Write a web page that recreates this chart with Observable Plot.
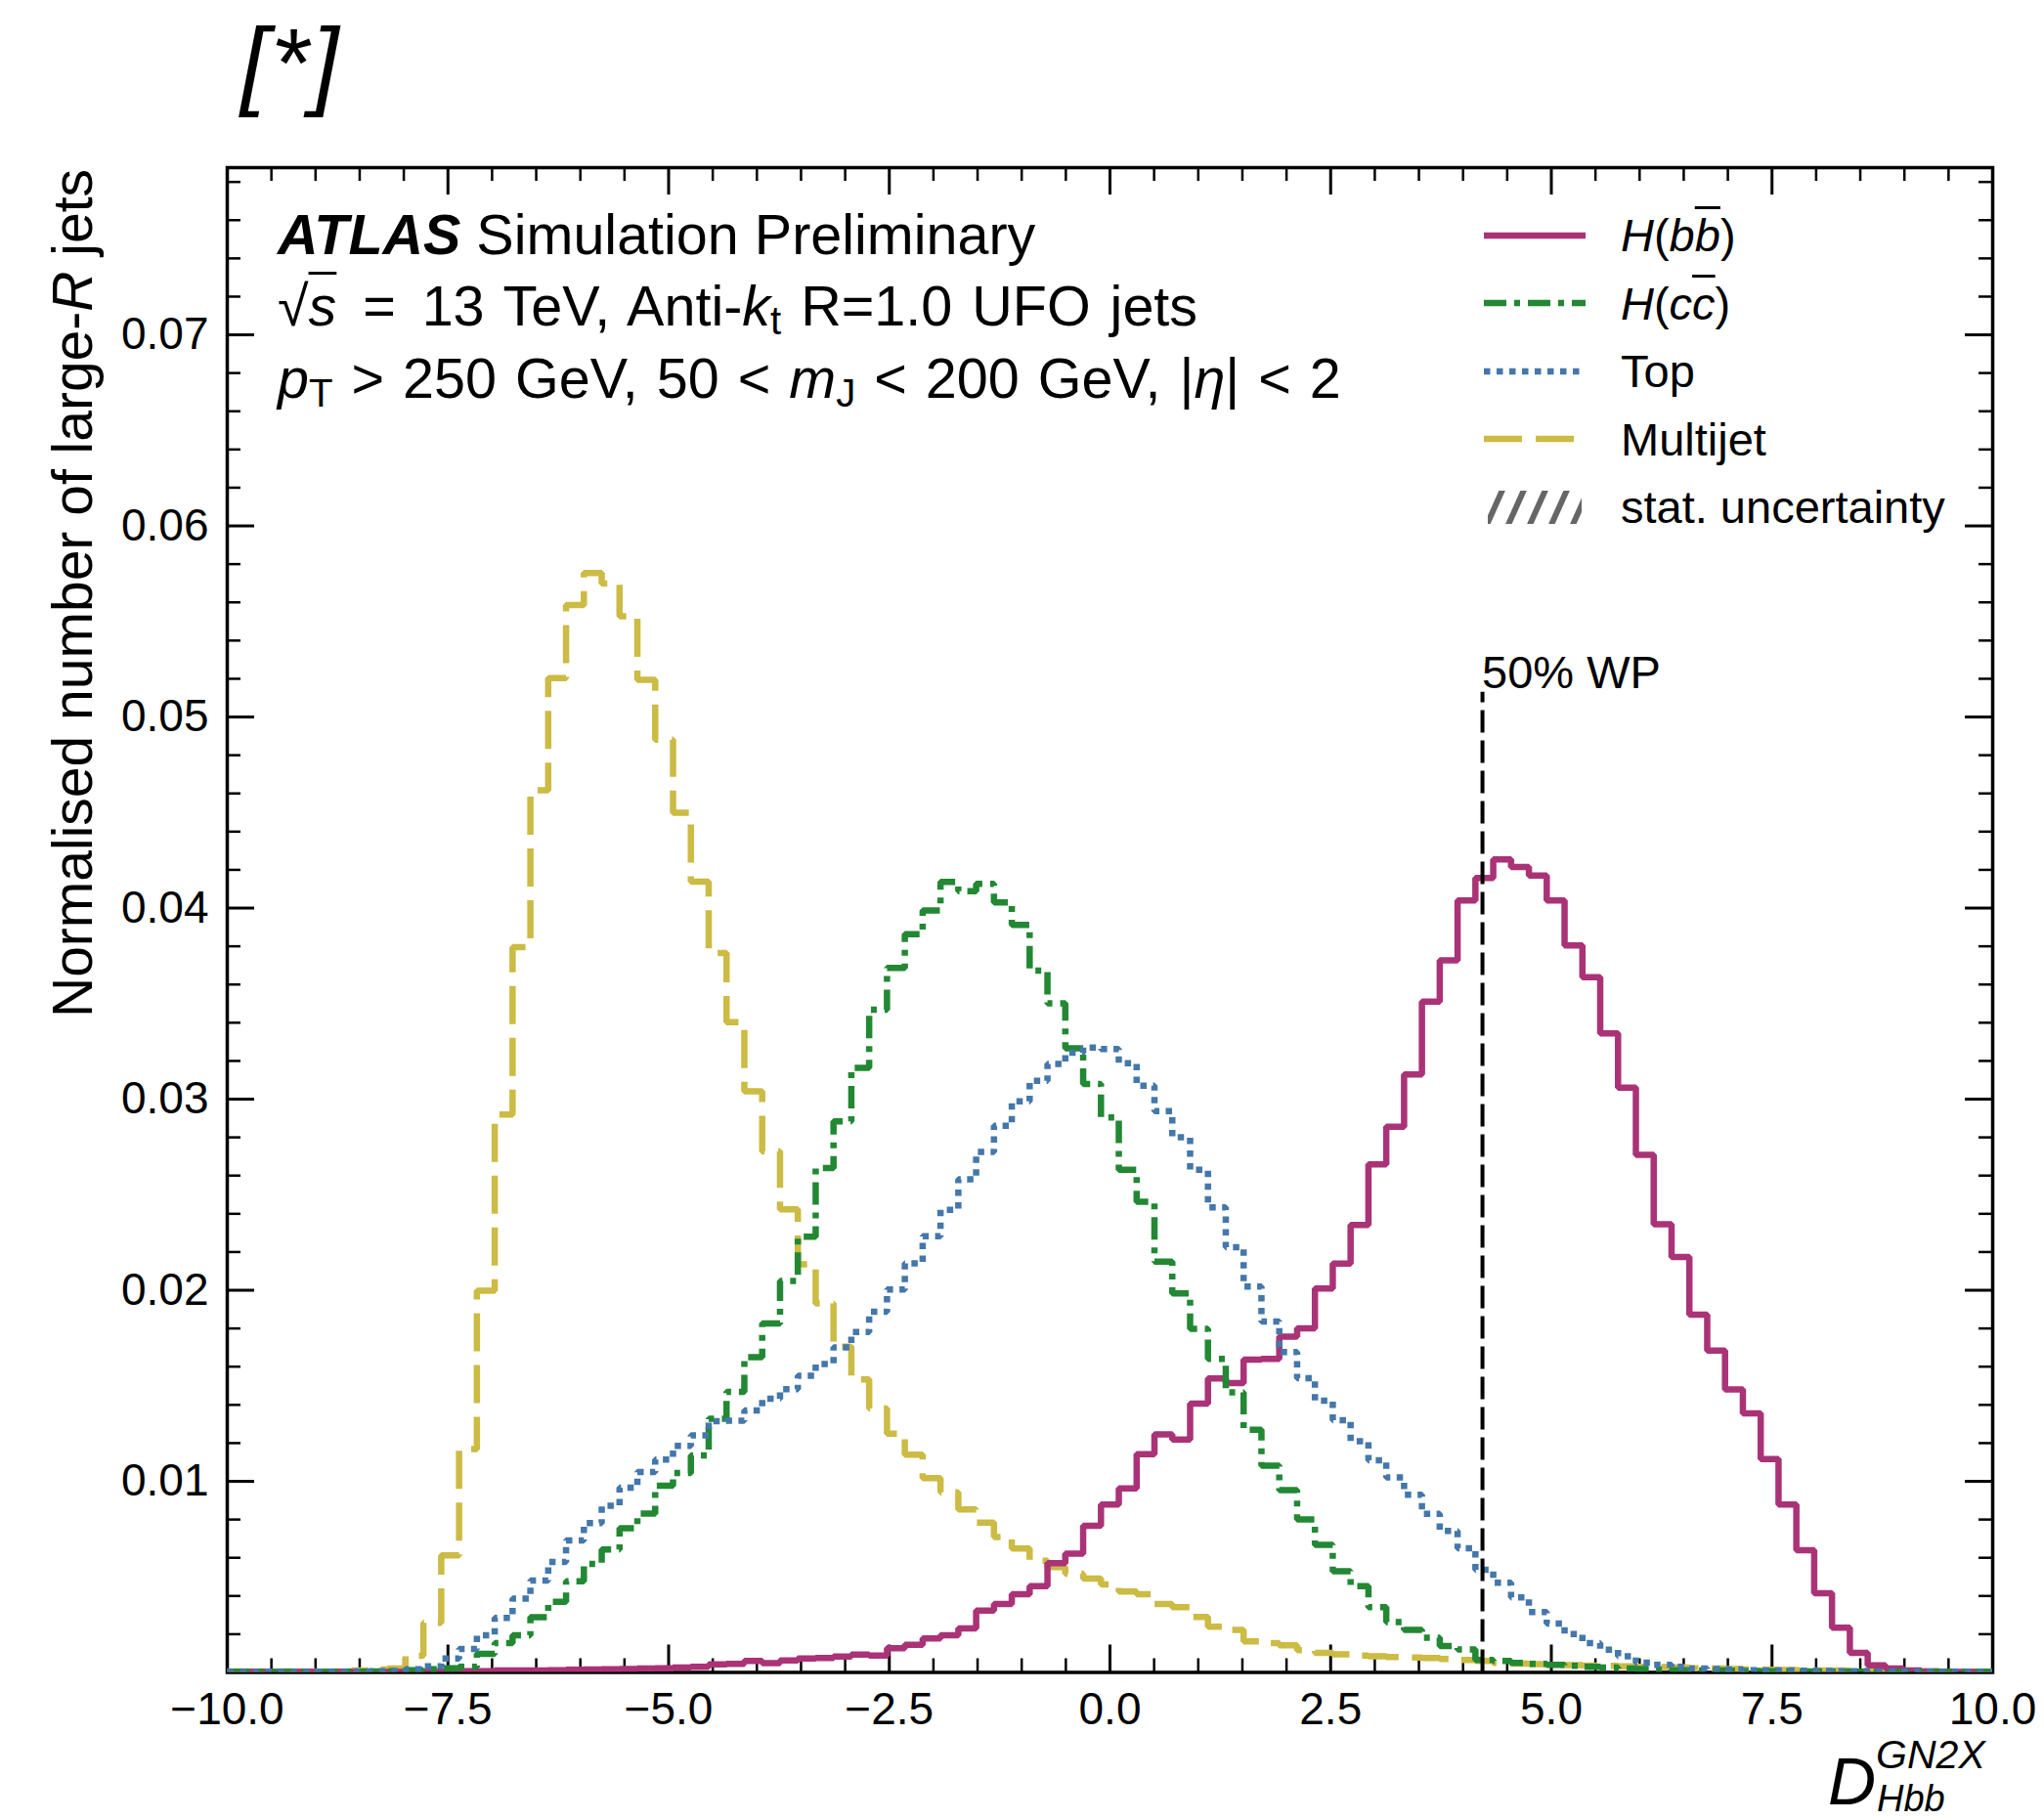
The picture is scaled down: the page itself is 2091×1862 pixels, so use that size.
<!DOCTYPE html>
<html>
<head>
<meta charset="utf-8">
<script src="https://cdn.jsdelivr.net/npm/d3@7"></script>
<script src="https://cdn.jsdelivr.net/npm/@observablehq/plot@0.6"></script>
<style>
  body { margin: 0; background: #fff; font-family: "Liberation Sans", Arial, sans-serif; color: #000; }
  #wrap { position: relative; width: 2091px; height: 1862px; overflow: hidden; background: #fff; }
  #title { position: relative; height: 150px; }
  #title span { position: absolute; left: 246px; top: 14px; font-size: 100px; line-height: 1; font-style: italic; white-space: nowrap; letter-spacing: 3px; }
  .ann { position: absolute; font-size: 57.5px; line-height: 1; white-space: nowrap; }
  .ann i { font-style: italic; }
  .sb { font-size: 0.7em; position: relative; top: 0.22em; }
  .ov { text-decoration: overline; text-decoration-thickness: 0.06em; }
  .eq { margin: 0 0.12em; }
  #legend { position: absolute; left: 1518px; top: 206px; }
  .lrow { display: flex; align-items: center; height: 69.5px; }
  .lrow svg { flex: none; width: 104px; height: 40px; }
  .lrow span { font-size: 47px; line-height: 1; margin-left: 36px; white-space: nowrap; }
  #wp { position: absolute; left: 1516px; top: 664px; font-size: 47px; line-height: 1; white-space: nowrap; }
</style>
</head>
<body>
<div id="wrap">
  <div id="title"><span>[*]</span></div>
  <div id="chart"></div>
  <div class="ann" style="left:284px; top:212px;"><b><i>ATLAS</i></b> Simulation Preliminary</div>
  <div class="ann" style="left:284px; top:285px; word-spacing:4px;">√<i class="ov">s</i><span class="eq"> = </span>13 TeV, Anti-<i>k</i><span class="sb">t</span> R=1.0 UFO jets</div>
  <div class="ann" style="left:284px; top:359px; word-spacing:3px;"><i>p</i><span class="sb">T</span> &gt; 250 GeV, 50 &lt; <i>m</i><span class="sb">J</span> &lt; 200 GeV, |<i>η</i>| &lt; 2</div>
  <div id="legend"></div>
  <div id="wp">50% WP</div>
</div>
<script>
// ---------------- data ----------------
const binStart = -10;
const binWidth = 0.202;

const seriesNames = ["H(bb̄)", "H(cc̄)", "Top", "Multijet"];

const hbbValues = [
  0.00002,0.00002,0.00002,0.00002,0.00002,0.00002,0.00002,0.00002,0.00002,0.00002,
  0.00004,0.00005,0.00005,0.00006,0.00007,0.0001,0.0001,0.0001,0.00012,0.00014,
  0.00015,0.00016,0.00018,0.0002,0.00022,0.00025,0.0003,0.00042,0.00045,0.0006,
  0.00048,0.00063,0.00073,0.00075,0.00083,0.00093,0.00088,0.00127,0.00144,0.00178,
  0.00194,0.0023,0.00324,0.00358,0.00409,0.00452,0.00571,0.00622,0.00767,0.00878,
  0.00963,0.01142,0.01245,0.01219,0.01407,0.01538,0.01514,0.01637,0.01641,0.01757,
  0.018,0.02009,0.0214,0.02342,0.02659,0.02855,0.03129,0.03511,0.03726,0.0404,
  0.04157,0.04255,0.04215,0.0417,0.0404,0.03805,0.03638,0.03344,0.0306,0.02708,
  0.02346,0.02174,0.01872,0.01684,0.01481,0.01355,0.01117,0.00878,0.00639,0.00414,
  0.00234,0.00102,0.00037,0.0002,0.0001,0.00005,0.00004,0.00003,0.00002
];

const hccValues = [
  0.00002,0.00002,0.00002,0.00003,0.00003,0.00003,0.00004,0.00004,0.00005,0.00006,
  0.00012,0.00016,0.00022,0.0003,0.00097,0.00154,0.00194,0.00289,0.0037,0.00477,
  0.00568,0.00643,0.00754,0.00831,0.00977,0.01044,0.01135,0.01327,0.01468,0.0165,
  0.01826,0.02049,0.0228,0.0264,0.02884,0.03164,0.03468,0.03687,0.03863,0.03987,
  0.04137,0.04088,0.04127,0.0403,0.03912,0.03673,0.03501,0.03266,0.0308,0.02904,
  0.0263,0.02463,0.0215,0.01984,0.01798,0.01641,0.01465,0.0127,0.01082,0.00954,
  0.008,0.00668,0.0053,0.00452,0.00341,0.00264,0.00222,0.00182,0.00138,0.0012,
  0.00065,0.0006,0.0005,0.00045,0.0004,0.00035,0.0003,0.00025,0.0002,0.00018,
  0.00015,0.00012,0.0001,0.0001,0.00009,0.00008,0.00007,0.00006,0.00005,0.00005,
  0.00004,0.00004,0.00003,0.00003,0.00003,0.00002,0.00002,0.00002,0.00002
];

const topValues = [
  0.00002,0.00002,0.00002,0.00003,0.00003,0.00004,0.00004,0.00005,0.00006,0.00008,
  0.00016,0.00032,0.00073,0.00123,0.00194,0.00285,0.00386,0.00481,0.00578,0.0069,
  0.00781,0.00872,0.00967,0.01048,0.01114,0.01185,0.0124,0.01315,0.01317,0.01371,
  0.01432,0.01482,0.01553,0.01614,0.01701,0.01782,0.01887,0.02004,0.02141,0.02283,
  0.02421,0.02581,0.02724,0.02861,0.02988,0.03096,0.03184,0.03243,0.0327,0.03262,
  0.03188,0.0307,0.02937,0.028,0.0263,0.02434,0.02225,0.02019,0.01837,0.01677,
  0.0154,0.01422,0.0132,0.0121,0.0111,0.0102,0.0093,0.0083,0.0074,0.0065,
  0.00537,0.00469,0.00392,0.00316,0.00256,0.00201,0.00153,0.00119,0.00085,0.00051,
  0.0004,0.0003,0.0002,0.00018,0.00015,0.00012,0.0001,0.0001,0.00009,0.00008,
  0.00007,0.00006,0.00005,0.00005,0.00004,0.00004,0.00003,0.00003,0.00002
];

const multijetValues = [
  0.00005,0.00005,0.00005,0.00005,0.00005,0.00005,0.00005,0.0001,0.00015,0.0002,
  0.00087,0.00259,0.00613,0.01169,0.01998,0.02919,0.03795,0.04617,0.05204,0.05586,
  0.05753,0.05699,0.05527,0.05194,0.04881,0.04499,0.04138,0.03765,0.03403,0.03041,
  0.02726,0.02423,0.02136,0.01931,0.01705,0.01533,0.01381,0.0125,0.01139,0.01017,
  0.00942,0.00853,0.00784,0.00708,0.00648,0.00585,0.00551,0.00517,0.00491,0.0046,
  0.00423,0.00409,0.00358,0.00341,0.0029,0.00239,0.00222,0.00162,0.00153,0.00142,
  0.00116,0.00102,0.00094,0.00088,0.00085,0.0008,0.00078,0.00075,0.0007,0.00065,
  0.0006,0.0005,0.00046,0.00043,0.0004,0.00038,0.00036,0.00034,0.00032,0.0003,
  0.00028,0.00026,0.00022,0.0002,0.00018,0.00015,0.00014,0.00013,0.00012,0.0001,
  0.0001,0.00008,0.00007,0.00006,0.00005,0.00005,0.00004,0.00004,0.00003
];

const xTickLabels = [-10, -7.5, -5, -2.5, 0, 2.5, 5, 7.5, 10];
const yTickLabels = [0.01, 0.02, 0.03, 0.04, 0.05, 0.06, 0.07];
const xMinorStep = 0.5;
const yMinorStep = 0.002;
const xDomain = [-10, 10];
const yDomain = [0, 0.07875];
const wpCut = 4.22;       // 50% working point
const wpLineTop = 0.0513;

// ---------------- styles ----------------
const colors = { hbb: "#AA3377", hcc: "#228833", top: "#4477AA", multijet: "#CCBB44" };
const lw = 6.5;
const dashes = { hbb: null, hcc: "23 8 6 8", top: "6.5 6.5", multijet: "39 14" };

function histRows(values) {
  const rows = values.map((v, i) => ({ x: binStart + i * binWidth, y: v }));
  rows.push({ x: binStart + values.length * binWidth, y: values[values.length - 1] });
  return rows;
}

const W = 2091, H = 1712;
const mL = 232, mR = 53, mT = 21, mB = 151.5;
const plotW = W - mL - mR, plotH = H - mT - mB;

const xMinor = d3.range(xDomain[0], xDomain[1] + 1e-9, xMinorStep).filter(v => !xTickLabels.some(t => Math.abs(t - v) < 1e-9));
const yMinor = d3.range(0, yDomain[1], yMinorStep).map(v => +v.toFixed(4)).filter(v => v > 0 && !yTickLabels.some(t => Math.abs(t - v) < 1e-9));

const majorLen = 28, minorLen = 14;

function histLine(values, key) {
  const o = { x: "x", y: "y", curve: "step-after", stroke: colors[key], strokeWidth: lw,
              strokeLinejoin: "miter", strokeLinecap: "butt", clip: true };
  if (dashes[key]) o.strokeDasharray = dashes[key];
  return Plot.line(histRows(values), o);
}

const chart = Plot.plot({
  width: W, height: H,
  marginLeft: mL, marginRight: mR, marginTop: mT, marginBottom: mB,
  x: { domain: xDomain },
  y: { domain: yDomain },
  style: { fontFamily: "Liberation Sans, Arial, sans-serif", fontSize: "46px", color: "black", background: "white", overflow: "visible" },
  marks: [
    Plot.axisX({ ticks: xTickLabels, tickSize: 0, tickPadding: 20, tickFormat: d3.format(".1f"), label: null, fontSize: 46 }),
    Plot.axisY({ ticks: yTickLabels, tickSize: 0, tickPadding: 19, tickFormat: d3.format(".2f"), label: null, fontSize: 46 }),
    // inward ticks on all four sides
    Plot.ruleX(xTickLabels, { x: d => d, insetTop: plotH - majorLen, stroke: "black", strokeWidth: 3 }),
    Plot.ruleX(xTickLabels, { x: d => d, insetBottom: plotH - majorLen, stroke: "black", strokeWidth: 3 }),
    Plot.ruleX(xMinor, { x: d => d, insetTop: plotH - minorLen, stroke: "black", strokeWidth: 2.5 }),
    Plot.ruleX(xMinor, { x: d => d, insetBottom: plotH - minorLen, stroke: "black", strokeWidth: 2.5 }),
    Plot.ruleY(yTickLabels, { y: d => d, insetRight: plotW - majorLen, stroke: "black", strokeWidth: 3 }),
    Plot.ruleY(yTickLabels, { y: d => d, insetLeft: plotW - majorLen, stroke: "black", strokeWidth: 3 }),
    Plot.ruleY(yMinor, { y: d => d, insetRight: plotW - minorLen, stroke: "black", strokeWidth: 2.5 }),
    Plot.ruleY(yMinor, { y: d => d, insetLeft: plotW - minorLen, stroke: "black", strokeWidth: 2.5 }),
    Plot.frame({ stroke: "black", strokeWidth: 3.5 }),
    histLine(multijetValues, "multijet"),
    histLine(hbbValues, "hbb"),
    histLine(hccValues, "hcc"),
    histLine(topValues, "top"),
    Plot.ruleX([wpCut], { x: d => d, y1: 0, y2: wpLineTop, stroke: "black", strokeWidth: 4, strokeDasharray: "23 8" })
  ]
});

document.getElementById("chart").appendChild(chart);

// axis titles (SVG text with italic / sub / superscript parts)
const svg = d3.select(chart.tagName.toLowerCase() === "svg" ? chart : chart.querySelector("svg"));
const ylab = svg.append("text")
  .attr("transform", `translate(94, ${173 - 150}) rotate(-90)`)
  .attr("text-anchor", "end")
  .attr("font-family", "Liberation Sans, Arial, sans-serif")
  .attr("font-size", 57)
  .attr("fill", "black");
ylab.append("tspan").text("Normalised number of large-");
ylab.append("tspan").attr("font-style", "italic").text("R");
ylab.append("tspan").text(" jets");

// x label: D with superscript GN2X and subscript Hbb, one text element
const xlab = svg.append("text")
  .attr("x", 1870).attr("y", 1846 - 150)
  .attr("text-anchor", "start")
  .attr("font-family", "Liberation Sans, Arial, sans-serif")
  .attr("font-style", "italic")
  .attr("fill", "black");
xlab.append("tspan").attr("font-size", 68).text("D");
xlab.append("tspan").attr("font-size", 41).attr("dy", -37).text("GN2X");
xlab.append("tspan").attr("font-size", 38).attr("x", 1920).attr("dy", 44).text("Hbb");

// legend
const legendItems = [
  { key: "hbb", html: '<i>H</i>(<i>b</i><i class="ov">b</i>)' },
  { key: "hcc", html: '<i>H</i>(<i>c</i><i class="ov">c</i>)' },
  { key: "top", html: seriesNames[2] },
  { key: "multijet", html: seriesNames[3] },
  { key: "stat", html: "stat. uncertainty" }
];
const legend = document.getElementById("legend");
legendItems.forEach(item => {
  const row = document.createElement("div");
  row.className = "lrow";
  let sw;
  if (item.key === "stat") {
    sw = `<svg viewBox="0 0 104 40"><defs><pattern id="hatch" width="22" height="40" patternUnits="userSpaceOnUse">
      <line x1="2" y1="40" x2="20" y2="0" stroke="#666" stroke-width="6"/></pattern></defs>
      <rect x="4" y="3" width="96" height="34" fill="url(#hatch)"/></svg>`;
  } else {
    const da = dashes[item.key] ? `stroke-dasharray="${dashes[item.key]}"` : "";
    sw = `<svg viewBox="0 0 104 40"><line x1="0" y1="20" x2="104" y2="20" stroke="${colors[item.key]}" stroke-width="${lw}" ${da}/></svg>`;
  }
  row.innerHTML = sw + `<span>${item.html}</span>`;
  legend.appendChild(row);
});
</script>
</body>
</html>
